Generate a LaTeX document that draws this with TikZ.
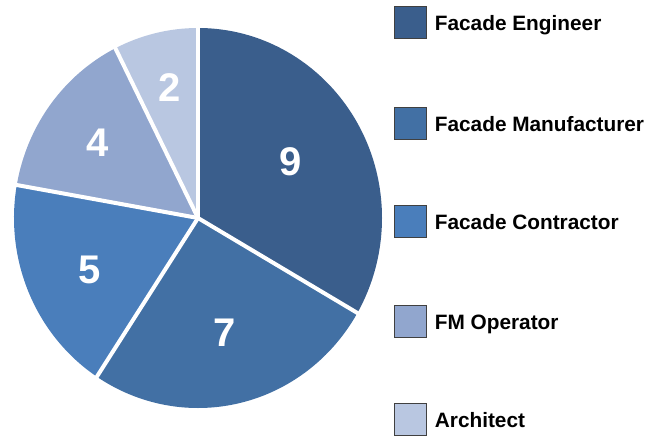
\documentclass[tikz,border=0pt]{standalone}
\usepackage{fontspec}
\setmainfont{Liberation Sans}
\usetikzlibrary{positioning}
\definecolor{myengineer}{RGB}{58,94,140}
\definecolor{mymanufacturer}{RGB}{66,112,164}
\definecolor{mycontractor}{RGB}{74,126,187}
\definecolor{myoperator}{RGB}{145,166,206}
\definecolor{myarchitect}{RGB}{185,199,225}
\tikzset{
    slicenum/.style={text=white, inner sep=0pt, font=\fontsize{20}{24}\selectfont\bfseries},
    keybox/.style={draw=black!75, line width=0.5pt, minimum size=16pt, inner sep=0pt},
    keytext/.style={anchor=base west, inner sep=0pt, font=\fontsize{10.4}{12}\selectfont\bfseries}
}
\begin{document}
\begin{tikzpicture}[x=0.5pt, y=0.5pt]
    \useasboundingbox (0,0) rectangle (659,435);
    \coordinate (O) at (198,217);

    % slices, clockwise from the top
    \foreach \from/\to/\col in {90/-30/myengineer, -30/-123.33/mymanufacturer, -123.33/-190/mycontractor, -190/-243.33/myoperator, -243.33/-270/myarchitect}
        \fill[\col] (O) -- ++(\from:184 and 190) arc[start angle=\from, end angle=\to, x radius=184, y radius=190] -- cycle;
    \foreach \a in {90, -30, -123.33, -190, -243.33}
        \draw[white, line width=2pt] (O) -- ++(\a:188 and 194);

    \node[slicenum] (num9) at (291,273) {9};
    \node[slicenum] (num7) at (225,102) {7};
    \node[slicenum] (num5) at (90,165) {5};
    \node[slicenum] (num4) at (98,292) {4};
    \node[slicenum] (num2) at (170,347) {2};

    % legend
    \foreach \y/\col/\name/\txt in {412/myengineer/engineer/Facade Engineer, 312/mymanufacturer/manufacturer/Facade Manufacturer, 213.5/mycontractor/contractor/Facade Contractor, 114/myoperator/operator/FM Operator, 16/myarchitect/architect/Architect}
    {
        \node[keybox, fill=\col] (box\name) at (410,\y) {};
        \node[keytext] (key\name) at ([xshift=4pt, yshift=-4pt]box\name.east) {\txt};
    }
\end{tikzpicture}
\end{document}
